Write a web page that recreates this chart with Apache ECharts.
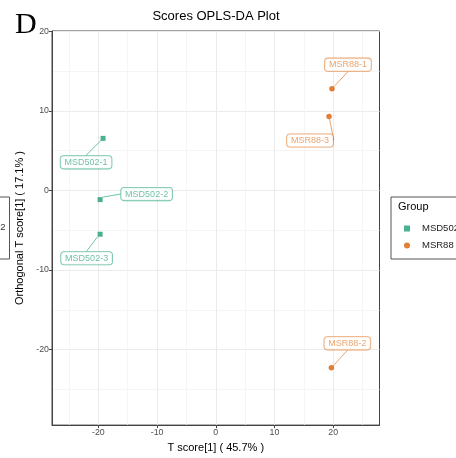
<!DOCTYPE html>
<html>
<head>
<meta charset="utf-8">
<script src="https://cdn.jsdelivr.net/npm/echarts@6/dist/echarts.min.js"></script>
<style>
html,body{margin:0;padding:0;background:#fff;}
#c{width:456px;height:458px;}
</style>
</head>
<body>
<div id="c"></div>
<script>
// ---- data ----
var msd502Names = ['MSD502-1', 'MSD502-2', 'MSD502-3'];
var msd502X = [-19.2, -19.7, -19.7];
var msd502Y = [6.55, -1.15, -5.5];
var msr88Names = ['MSR88-1', 'MSR88-2', 'MSR88-3'];
var msr88X = [19.8, 19.7, 19.3];
var msr88Y = [12.8, -22.3, 9.3];
var groupNames = ['MSD502', 'MSR88'];
var xTicks = [-20, -10, 0, 10, 20];
var xMinor = [-25, -15, -5, 5, 15, 25];
var yTicks = [-20, -10, 0, 10, 20];
var yMinor = [-25, -15, -5, 5, 15];

// label offsets (layout, px)
var msd502Offsets = [[-17, 24], [46.5, -5.5], [-13.5, 24]];
var msr88Offsets = [[16, -24], [16, -24.5], [-19, 24]];

var green = '#1B9E77', orange = '#D95F02';
var greenA = 'rgba(27,158,119,0.8)', orangeA = 'rgba(217,95,2,0.72)';
var font = 'Liberation Sans, Arial, sans-serif';

function pts(xs, ys, names) {
  return xs.map(function (x, i) { return { name: names[i], value: [x, ys[i]] }; });
}

function labelCfg(col) {
  return {
    show: true, position: 'inside', formatter: '{b}',
    fontFamily: font, fontSize: 9, color: col,
    backgroundColor: '#fff', borderColor: col, borderWidth: 0.8, borderRadius: 3,
    padding: [2, 4, 1.5, 4]
  };
}

var chart = echarts.init(document.getElementById('c'), null, { renderer: 'canvas' });

var gridLine = { show: true, lineStyle: { color: '#ebebeb', width: 1 } };
var minorLine = { show: true, lineStyle: { color: '#f2f2f2', width: 0.8 } };

var option = {
  animation: false,
  backgroundColor: '#fff',
  grid: { left: 52, top: 31, right: 76.5, bottom: 31.3, show: true, borderColor: '#444', borderWidth: 1, backgroundColor: 'transparent' },
  graphic: [
    { type: 'text', left: 15, top: 10, style: { text: 'D', font: '30px "Liberation Serif", "Times New Roman", serif', fill: '#000' } },
    { type: 'text', x: 216, y: 16, style: { text: 'Scores OPLS-DA Plot', fontFamily: font, fontSize: 13, fill: '#000', align: 'center', verticalAlign: 'middle' } },
    { type: 'rect', shape: { x: -60, y: 197, width: 69.5, height: 62 }, style: { fill: '#fff', stroke: '#555', lineWidth: 1 } },
    { type: 'text', x: 5.5, y: 227, style: { text: 'MSD502', fontFamily: font, fontSize: 9.5, fill: '#333', align: 'right', verticalAlign: 'middle' } },
    { type: 'text', x: 398, y: 207, z: 100, style: { text: 'Group', fontFamily: font, fontSize: 11, fill: '#000', align: 'left', verticalAlign: 'middle' } }
  ],
  legend: {
    orient: 'vertical', left: 391, top: 197,
    padding: [26, 10, 8, 13],
    borderColor: '#555', borderWidth: 1,
    itemWidth: 6, itemHeight: 6, itemGap: 6,
    textStyle: { fontFamily: font, fontSize: 9.5, color: '#222', padding: [0, 0, 0, 7], lineHeight: 11 },
    data: [{ name: groupNames[0], icon: 'rect' }, { name: groupNames[1], icon: 'circle' }]
  },
  xAxis: [{
    type: 'value', min: -27.9, max: 27.9,
    name: 'T score[1] ( 45.7% )', nameLocation: 'middle', nameGap: 15,
    nameTextStyle: { fontFamily: font, fontSize: 11, color: '#000' },
    axisLine: { show: true, onZero: false, lineStyle: { color: '#444' } },
    axisTick: { show: true, length: 3, customValues: xTicks, lineStyle: { color: '#444' } },
    axisLabel: { customValues: xTicks, fontFamily: font, fontSize: 8.8, color: '#4d4d4d', margin: 3 },
    splitLine: gridLine
  }, {
    type: 'value', min: -27.9, max: 27.9, position: 'bottom',
    axisLine: { show: false }, axisTick: { show: false, customValues: xMinor },
    axisLabel: { show: false }, splitLine: minorLine
  }],
  yAxis: [{
    type: 'value', min: -29.5, max: 20.05,
    name: 'Orthogonal T score[1] ( 17.1% )', nameLocation: 'middle', nameGap: 20,
    nameTextStyle: { fontFamily: font, fontSize: 11, color: '#000' },
    axisLine: { show: true, onZero: false, lineStyle: { color: '#444' } },
    axisTick: { show: true, length: 3, customValues: yTicks, lineStyle: { color: '#444' } },
    axisLabel: { customValues: yTicks, fontFamily: font, fontSize: 8.8, color: '#4d4d4d', margin: 3 },
    splitLine: gridLine
  }, {
    type: 'value', min: -29.5, max: 20.05, position: 'left',
    axisLine: { show: false }, axisTick: { show: false, customValues: yMinor },
    axisLabel: { show: false }, splitLine: minorLine
  }],
  series: [{
    name: groupNames[0], type: 'scatter', symbol: 'rect', symbolSize: 5,
    itemStyle: { color: green },
    data: pts(msd502X, msd502Y, msd502Names),
    label: labelCfg(greenA),
    labelLine: { show: true, lineStyle: { color: greenA, width: 0.8 } },
    labelLayout: function (p) { var o = msd502Offsets[p.dataIndex]; return { dx: o[0], dy: o[1] }; }
  }, {
    name: groupNames[1], type: 'scatter', symbol: 'circle', symbolSize: 5.5,
    itemStyle: { color: orange },
    data: pts(msr88X, msr88Y, msr88Names),
    label: labelCfg(orangeA),
    labelLine: { show: true, lineStyle: { color: orangeA, width: 0.8 } },
    labelLayout: function (p) { var o = msr88Offsets[p.dataIndex]; return { dx: o[0], dy: o[1] }; }
  }]
};
chart.setOption(option);
</script>
</body>
</html>
